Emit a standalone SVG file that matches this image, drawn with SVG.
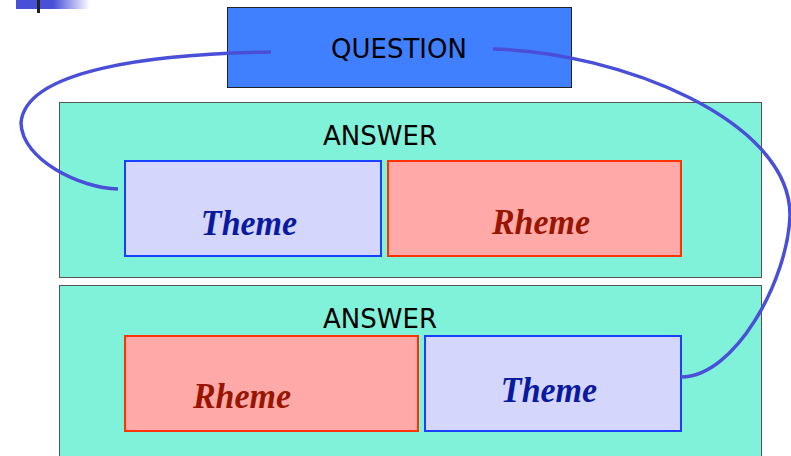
<svg xmlns="http://www.w3.org/2000/svg" width="791" height="456" viewBox="0 0 791 456">
  <defs>
    <linearGradient id="barFade" x1="16" y1="0" x2="90" y2="0" gradientUnits="userSpaceOnUse">
      <stop offset="0" stop-color="#4a4fd8"/>
      <stop offset="0.5" stop-color="#4a4fd8"/>
      <stop offset="1" stop-color="#4a4fd8" stop-opacity="0"/>
    </linearGradient>
    <style>
      .sans { font-family: "DejaVu Sans", Verdana, sans-serif; font-size: 26px; fill: #000; text-anchor: middle; }
      .serif { font-family: "Liberation Serif", "Times New Roman", serif; font-size: 34px; font-weight: bold; font-style: italic; text-anchor: middle; }
      .panel { fill: #80f2da; stroke: #555; stroke-width: 1; }
      .theme rect { fill: #d4d6fc; stroke: #1a40ff; stroke-width: 2; }
      .theme text { fill: #0a1aa0; }
      .rheme rect { fill: #ffaaa8; stroke: #ff3300; stroke-width: 2; }
      .rheme text { fill: #991500; }
      .link { fill: none; stroke: #4a4fd8; stroke-width: 3.5; stroke-linecap: butt; }
    </style>
  </defs>

  <rect width="791" height="456" fill="#ffffff"/>

  <!-- corner bullet bar -->
  <rect x="16" y="0" width="74" height="9" fill="url(#barFade)"/>
  <rect x="37" y="0" width="3" height="13" fill="#222"/>

  <g id="question">
    <rect x="227.5" y="7.5" width="344" height="80" fill="#4080ff" stroke="#222" stroke-width="1"/>
    <text class="sans" x="399" y="58">QUESTION</text>
  </g>

  <g id="answer1">
    <rect class="panel" x="59.5" y="102.5" width="702" height="175"/>
    <text class="sans" x="380" y="145">ANSWER</text>
  </g>
  <g id="theme1" class="theme">
    <rect x="125" y="161" width="256" height="95"/>
    <text class="serif" transform="translate(249,235) scale(1,1.08)">Theme</text>
  </g>
  <g id="rheme1" class="rheme">
    <rect x="388" y="161" width="293" height="95"/>
    <text class="serif" transform="translate(541,234) scale(1,1.08)">Rheme</text>
  </g>

  <g id="answer2">
    <rect class="panel" x="59.5" y="285.5" width="702" height="190"/>
    <text class="sans" x="380" y="328">ANSWER</text>
  </g>
  <g id="rheme2" class="rheme">
    <rect x="125" y="336" width="293" height="95"/>
    <text class="serif" transform="translate(242,408) scale(1,1.08)">Rheme</text>
  </g>
  <g id="theme2" class="theme">
    <rect x="425" y="336" width="256" height="95"/>
    <text class="serif" transform="translate(549,402) scale(1,1.08)">Theme</text>
  </g>

  <g id="connectors">
    <path class="link" d="M271,52 C150,54 25,70 21,123 C22,160 80,188 118,189"/>
    <path class="link" d="M493,49 C620,52 790,120 790,215 C788,280 735,377 681,377"/>
  </g>
</svg>
